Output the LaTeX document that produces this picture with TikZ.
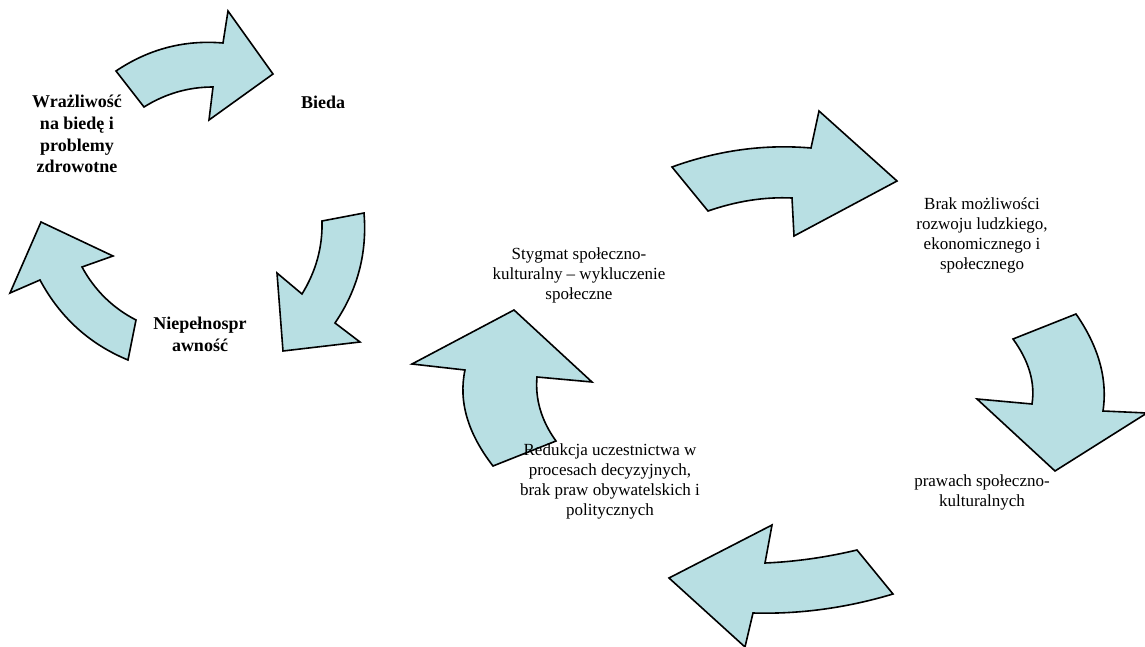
\documentclass[tikz,border=0pt]{standalone}
\usepackage{fontspec}
\setmainfont{Liberation Serif}
\definecolor{niebieski}{RGB}{184,223,227}
\tikzset{
	strzalka/.style={draw=black,fill=niebieski,line width=1.6pt,line join=miter},
	opis/.style={align=center,inner sep=0pt,font=\fontsize{17}{20}\selectfont},
	opisb/.style={align=center,inner sep=0pt,font=\fontsize{18}{21.7}\selectfont\bfseries},
}
\begin{document}
\begin{tikzpicture}[x=1pt,y=-1pt]
		\useasboundingbox (0,0) rectangle (1145,647);
		% lewy cykl
		\draw[strzalka] (116,71) .. controls (148.7,49) and (184.3,39.7) .. (223,43) -- (228,11) -- (273,74) -- (209,120) -- (213,87) .. controls (188.3,87) and (165.3,93.7) .. (144,107) -- cycle;
		\draw[strzalka] (364,213) .. controls (367.3,253) and (357.7,289.7) .. (335,323) -- (360,342) -- (283,351) -- (277,273) -- (302,294) .. controls (316,271.3) and (322.7,247) .. (322,221) -- cycle;
		\draw[strzalka] (128,360) .. controls (89.3,344) and (60,317.3) .. (40,280) -- (10,293) -- (41,222) -- (113,256) -- (82,267) .. controls (94.7,290.3) and (112.7,308) .. (136,320) -- cycle;
		% prawy cykl
		\draw[strzalka] (672,167) .. controls (718,150.3) and (764.3,144) .. (811,148) -- (819,111) -- (897,181) -- (794,236) -- (792,198) .. controls (764,196.7) and (736,201.3) .. (708,211) -- cycle;
		\draw[strzalka] (1076,314) .. controls (1098.7,346.7) and (1107.7,379) .. (1103,411) -- (1147,413) -- (1055,471) -- (977,399) -- (1032,404) .. controls (1035.3,382.7) and (1029,361) .. (1013,339) -- cycle;
		\draw[strzalka] (893,594) .. controls (846.3,608) and (799.7,614.3) .. (753,613) -- (745,647) -- (669,578) -- (772,525) -- (765,563) .. controls (795.7,561.7) and (826.3,557.3) .. (857,550) -- cycle;
		\draw[strzalka] (493,466) .. controls (467.7,433.3) and (458.3,401.3) .. (465,370) -- (412,364) -- (514,310) -- (592,382) -- (537,377) .. controls (535,399) and (541.3,420.7) .. (556,441) -- cycle;
		% opisy
		\node[opisb] (wrazliwosc) at (77,134) {Wrażliwość\\na biedę i\\problemy\\zdrowotne};
		\node[opisb] (bieda) at (323,102) {Bieda};
		\node[opisb] (niepelnosprawnosc) at (200,334) {Niepełnospr\\awność};
		\node[opis] (stygmat) at (579,275) {Stygmat społeczno-\\kulturalny – wykluczenie\\społeczne};
		\node[opis] (brak) at (982,235) {Brak możliwości\\rozwoju ludzkiego,\\ekonomicznego i\\społecznego};
		\node[opis] (prawa) at (982,492) {prawach społeczno-\\kulturalnych};
		\node[opis] (redukcja) at (610,481) {Redukcja uczestnictwa w\\procesach decyzyjnych,\\brak praw obywatelskich i\\politycznych};
	\end{tikzpicture}
\end{document}
